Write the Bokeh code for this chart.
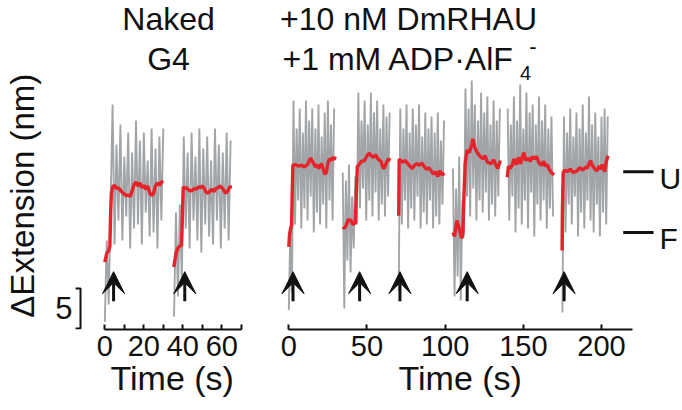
import math
from bokeh.plotting import figure
from bokeh.models import Range1d, FixedTicker, Label, Arrow, VeeHead, Title
from bokeh.layouts import row
from bokeh.embed import file_html
from bokeh.resources import INLINE

FONT = "Liberation Sans"
GRAY = "#a2a5a7"
RED = "#e5232b"
INK = "#111111"

# ---------------- data (time in s, extension in nm) ----------------
naked_ticks = [0, 20, 40, 60]
naked_minor = [10, 30, 50, 70]
rhau_ticks = [0, 50, 100, 150, 200]

# raw (gray) traces, sampled every 1 s from their start time
naked1_t0 = 0.0
naked1_gray = [0.8, 11.0, 3.0, 16.0, 28.0, 10.5, 23.0, 13.5, 25.5, 11.0, 21.5, 14.0, 24.5, 10.0, 22.0, 12.5,
               26.0, 13.0, 23.5, 10.5, 24.5, 14.5, 21.0, 11.5, 25.0, 12.0, 22.5, 10.0, 24.0, 13.5, 25.0]
naked2_t0 = 35.5
naked2_gray = [1.5, 14.5, 4.0, 15.5, 6.0, 24.0, 12.5, 22.0, 10.0, 24.5, 13.5, 21.5, 11.0, 25.0, 9.5, 22.5,
               13.0, 24.0, 11.5, 21.0, 10.5, 25.0, 13.5, 23.0, 10.0, 22.0, 12.5, 24.5, 11.0, 23.5]
rhau1_t0 = 0.0
rhau1_gray = [2.3, 12.5, 4.5, 28.5, 13.0, 25.0, 16.0, 27.5, 12.5, 24.5, 15.0, 28.5, 13.5, 26.0, 16.5, 27.5,
              12.0, 25.0, 14.5, 28.0, 13.0, 24.0, 15.5, 27.0, 12.5, 28.5, 16.0, 25.5, 13.5, 27.5]
rhau2_t0 = 34.5
rhau2_gray = [19.5, 2.5, 18.5, 8.5, 20.5, 7.0, 16.5, 10.0, 19.0, 13.0, 29.5, 15.0, 26.0, 17.5, 28.5, 13.5,
              25.5, 16.0, 29.5, 14.0, 27.0, 17.0, 28.5, 13.5, 25.0, 15.5, 28.0, 14.0, 26.5, 16.5, 27.0]
rhau3_t0 = 70.3
rhau3_gray = [4.7, 27.5, 13.0, 25.0, 16.0, 28.0, 12.5, 24.5, 15.0, 27.5, 13.5, 25.5, 16.5, 28.0, 12.5, 24.0,
              14.5, 27.0, 13.0, 25.0, 16.0, 26.5, 12.5, 24.5, 14.0, 27.0, 13.0, 23.5, 15.5, 26.0]
rhau4_t0 = 105.0
rhau4_gray = [20.0, 4.0, 17.5, 6.5, 21.5, 3.5, 16.0, 12.0, 30.0, 16.5, 27.5, 14.0, 31.0, 17.5, 28.0, 13.5,
              26.0, 16.0, 29.5, 14.5, 27.0, 17.0, 29.0, 13.5, 25.5, 15.5, 28.5, 14.0, 26.0, 16.5, 27.5]
rhau5_t0 = 140.0
rhau5_gray = [27.5, 13.5, 25.5, 16.5, 29.0, 12.0, 26.0, 15.0, 30.5, 13.0, 25.0, 16.0, 29.5, 12.5, 27.0, 17.0,
              28.0, 11.5, 25.5, 15.5, 29.0, 13.5, 26.0, 16.0, 28.0, 12.5, 25.0, 15.0, 26.5, 14.0]
rhau6_t0 = 175.0
rhau6_gray = [2.0, 26.5, 12.0, 24.5, 15.5, 27.5, 13.0, 24.0, 16.5, 27.0, 11.5, 25.0, 14.5, 28.0, 12.5, 24.5,
              16.0, 29.0, 13.5, 25.5, 12.0, 27.0, 15.5, 24.0, 11.5, 26.5, 14.5, 27.5, 13.0, 26.5]

# smoothed (red) traces
naked1_red_t = [0, 1, 2, 2.6, 3.0, 3.4, 4, 5, 6, 7, 8, 9, 10, 11, 12, 13, 14, 15, 16, 17, 18, 19, 20, 21, 22,
                23, 24, 25, 26, 27, 28, 29, 30]
naked1_red = [8.3, 9.4, 9.7, 10.3, 14.5, 17.0, 17.7, 17.9, 17.5, 17.6, 17.3, 17.0, 16.8, 16.6, 16.7, 16.5,
              17.2, 18.0, 18.3, 17.8, 18.2, 17.6, 17.9, 17.4, 17.8, 17.0, 16.6, 16.9, 17.8, 18.2, 17.9, 18.3, 18.4]
naked2_red_t = [35.4, 36.5, 37.6, 38.5, 39.3, 39.8, 40.2, 41, 42, 43, 44, 45, 46, 47, 48, 49, 50, 51, 52, 53,
                54, 55, 56, 57, 58, 59, 60, 61, 62, 63, 64, 65.2]
naked2_red = [7.7, 9.4, 10.1, 10.3, 10.4, 14.0, 17.7, 17.5, 17.6, 17.3, 17.2, 17.3, 17.5, 17.4, 17.7, 17.6,
              17.8, 17.5, 17.0, 16.9, 17.2, 17.4, 17.1, 17.5, 17.6, 17.8, 17.6, 17.3, 16.9, 17.2, 17.7, 17.7]
rhau1_red_t = [0, 0.5, 1.3, 1.8, 2.2, 2.6, 4, 6, 8, 10, 12, 13, 14, 15, 16, 17, 18, 19, 20, 21, 22, 23, 24,
               25, 26, 27, 28, 29, 29.7]
rhau1_red = [10.2, 11.8, 12.6, 13.0, 17.0, 20.4, 20.5, 20.3, 20.4, 20.2, 20.5, 21.0, 21.3, 20.9, 20.6, 20.2,
             20.5, 20.0, 20.3, 20.6, 19.9, 19.3, 19.5, 20.7, 21.2, 21.0, 21.4, 21.1, 21.5]
rhau2_red_t = [34.6, 35.5, 36.7, 38, 39.8, 41, 42.6, 43.2, 43.8, 45, 46.5, 48.4, 50, 51.5, 52.6, 54, 55.5,
               57, 59, 60, 61, 62.2, 63.5, 65]
rhau2_red = [12.7, 12.5, 12.9, 13.6, 13.5, 13.0, 13.2, 17.0, 20.2, 20.5, 20.9, 21.0, 21.6, 21.9, 21.6, 21.4,
             21.7, 21.2, 20.9, 20.2, 20.0, 20.6, 21.2, 21.0]
rhau3_red_t = [70.3, 70.6, 71.5, 73, 74.5, 76.1, 77.5, 79, 80.4, 82, 83.5, 85, 86.8, 88, 89.5, 91.1, 92.5,
               94, 95.3, 96.5, 98, 99.6]
rhau3_red = [14.1, 21.2, 21.0, 20.8, 21.0, 20.6, 20.3, 20.0, 20.4, 20.6, 20.4, 20.7, 20.2, 19.9, 20.1, 19.7,
             19.3, 19.6, 19.0, 19.7, 19.2, 19.4]
rhau4_red_t = [105, 106, 107.5, 109, 110.5, 111.3, 112, 112.8, 114, 115.5, 117, 117.7, 119, 120.5, 122,
               124.1, 125.5, 127, 129.4, 131, 132.5, 133.7, 135.3]
rhau4_red = [12.0, 11.5, 13.5, 12.5, 11.3, 11.6, 16.5, 20.6, 22.3, 22.0, 23.0, 23.7, 22.6, 22.0, 21.6, 21.2,
             21.6, 20.8, 20.6, 21.1, 20.4, 20.0, 21.0]
rhau5_red_t = [139.7, 140.5, 141.5, 142.9, 144, 145.5, 147, 148.2, 149.5, 150.4, 151.5, 153, 154.5, 155.7,
               157, 158.5, 160, 161.5, 163, 164, 165.3, 166.5, 168, 169.6]
rhau5_red = [18.9, 20.3, 20.0, 20.4, 21.2, 20.5, 21.4, 20.6, 21.5, 22.0, 21.0, 21.3, 20.9, 21.5, 21.2, 21.5,
             20.7, 20.4, 20.9, 20.3, 20.5, 19.9, 19.5, 19.2]
rhau6_red_t = [174.8, 175.0, 175.5, 176.5, 178, 180, 182, 184.4, 186, 188, 190, 190.8, 192, 193, 194, 195.5,
               197, 198.5, 199.4, 200.5, 202, 203, 204.1]
rhau6_red = [9.75, 15.0, 19.5, 19.8, 19.6, 19.9, 19.5, 19.7, 20.1, 19.8, 20.2, 20.0, 20.6, 21.0, 20.4, 20.0,
             19.7, 20.3, 19.9, 20.5, 19.6, 20.8, 21.6]

# arrows (time, s)
naked_arrows = [4.5, 41.0]
rhau_arrows = [2.7, 45.3, 71.1, 114.1, 176.1]
arrow_tip, arrow_tail = 7.1, 3.4

# state levels
state_labels = ["U", "F"]
state_levels = [19.6, 12.0]
scale_nm = 5

# ---------------- layout constants ----------------
H = 408
BOTTOM = 79
YR = (-0.125, 41.0)


def base_fig(width, xr, time_offset):
    p = figure(width=width, height=H, x_range=Range1d(*xr), y_range=Range1d(*YR),
               output_backend="svg", toolbar_location=None, y_axis_location=None,
               min_border_left=0, min_border_right=0, min_border_top=0, min_border_bottom=BOTTOM)
    p.outline_line_color = None
    p.grid.visible = False
    p.background_fill_color = "white"
    p.border_fill_color = "white"
    ax = p.xaxis[0]
    ax.axis_line_width = 2
    ax.axis_line_color = INK
    ax.major_tick_in = 5
    ax.major_tick_out = 0
    ax.major_tick_line_width = 2
    ax.major_tick_line_color = INK
    ax.minor_tick_in = 5
    ax.minor_tick_out = 0
    ax.minor_tick_line_width = 2
    ax.minor_tick_line_color = INK
    ax.major_label_text_font = FONT
    ax.major_label_text_font_size = "29px"
    ax.major_label_text_color = INK
    ax.major_label_standoff = 6
    p.add_layout(Title(text="Time (s)", align="left", offset=time_offset, standoff=0,
                       vertical_align="top", text_font=FONT, text_font_size="34px",
                       text_font_style="normal", text_color=INK), "below")
    return p


def add_traces(p, traces):
    for t0, gray, rt, rv in traces:
        ts = [t0 + i for i in range(len(gray))]
        p.line(ts, gray, line_color=GRAY, line_width=1.9)
    for t0, gray, rt, rv in traces:
        p.line(rt, rv, line_color=RED, line_width=3.4)


def add_arrows(p, xs):
    for x in xs:
        p.add_layout(Arrow(end=VeeHead(size=22, fill_color=INK, line_color=INK, line_width=1),
                           x_start=x, y_start=arrow_tail, x_end=x, y_end=arrow_tip,
                           line_width=3, line_color=INK))


def txt(p, x, y, s, size, align="center", baseline="middle", angle=0.0):
    p.add_layout(Label(x=x, y=y, text=s, text_font=FONT, text_font_size=size, text_color=INK,
                       text_align=align, text_baseline=baseline, angle=angle))


# ---------------- left panel: naked G4 ----------------
p1 = base_fig(262, (-53.49, 80.87), 110)
p1.xaxis[0].ticker = FixedTicker(ticks=naked_ticks, minor_ticks=naked_minor)
p1.xaxis[0].bounds = (0, 70)
add_traces(p1, [(naked1_t0, naked1_gray, naked1_red_t, naked1_red),
                (naked2_t0, naked2_gray, naked2_red_t, naked2_red)])
add_arrows(p1, naked_arrows)
# scale bar
p1.line([-15.0, -12.46, -12.46, -15.0], [scale_nm, scale_nm, 0, 0], line_color=INK, line_width=2)
txt(p1, -16.6, scale_nm / 2 + 0.1, str(scale_nm), "31px", align="right")
txt(p1, -42.4, 16.6, "\u0394Extension (nm)", "33px", angle=math.pi / 2)
txt(p1, 32.7, 38.65, "Naked", "32px")
txt(p1, 32.7, 33.75, "G4", "32px")

# ---------------- right panel: +DmRHAU ----------------
p2 = base_fig(418, (-16.82, 250.53), 136)
p2.xaxis[0].ticker = FixedTicker(ticks=rhau_ticks, minor_ticks=[])
p2.xaxis[0].bounds = (0, 220)
add_traces(p2, [(rhau1_t0, rhau1_gray, rhau1_red_t, rhau1_red),
                (rhau2_t0, rhau2_gray, rhau2_red_t, rhau2_red),
                (rhau3_t0, rhau3_gray, rhau3_red_t, rhau3_red),
                (rhau4_t0, rhau4_gray, rhau4_red_t, rhau4_red),
                (rhau5_t0, rhau5_gray, rhau5_red_t, rhau5_red),
                (rhau6_t0, rhau6_gray, rhau6_red_t, rhau6_red)])
add_arrows(p2, rhau_arrows)
p2.segment(x0=[213.9] * len(state_levels), x1=[233.3] * len(state_levels),
           y0=state_levels, y1=state_levels, line_color=INK, line_width=3)
for s, lv in zip(state_labels, state_levels):
    txt(p2, 237.1, lv - 0.8, s, "30px", align="left")
txt(p2, 76.6, 38.65, "+10 nM DmRHAU", "32px")
txt(p2, -4.0, 33.75, "+1 mM ADP\u00b7AlF", "32px", align="left")
txt(p2, 147.8, 31.9, "4", "20px", align="left")
txt(p2, 153.8, 35.3, "-", "22px", align="left")

layout = row(p1, p2)
open("out.html", "w").write(file_html(layout, INLINE))
